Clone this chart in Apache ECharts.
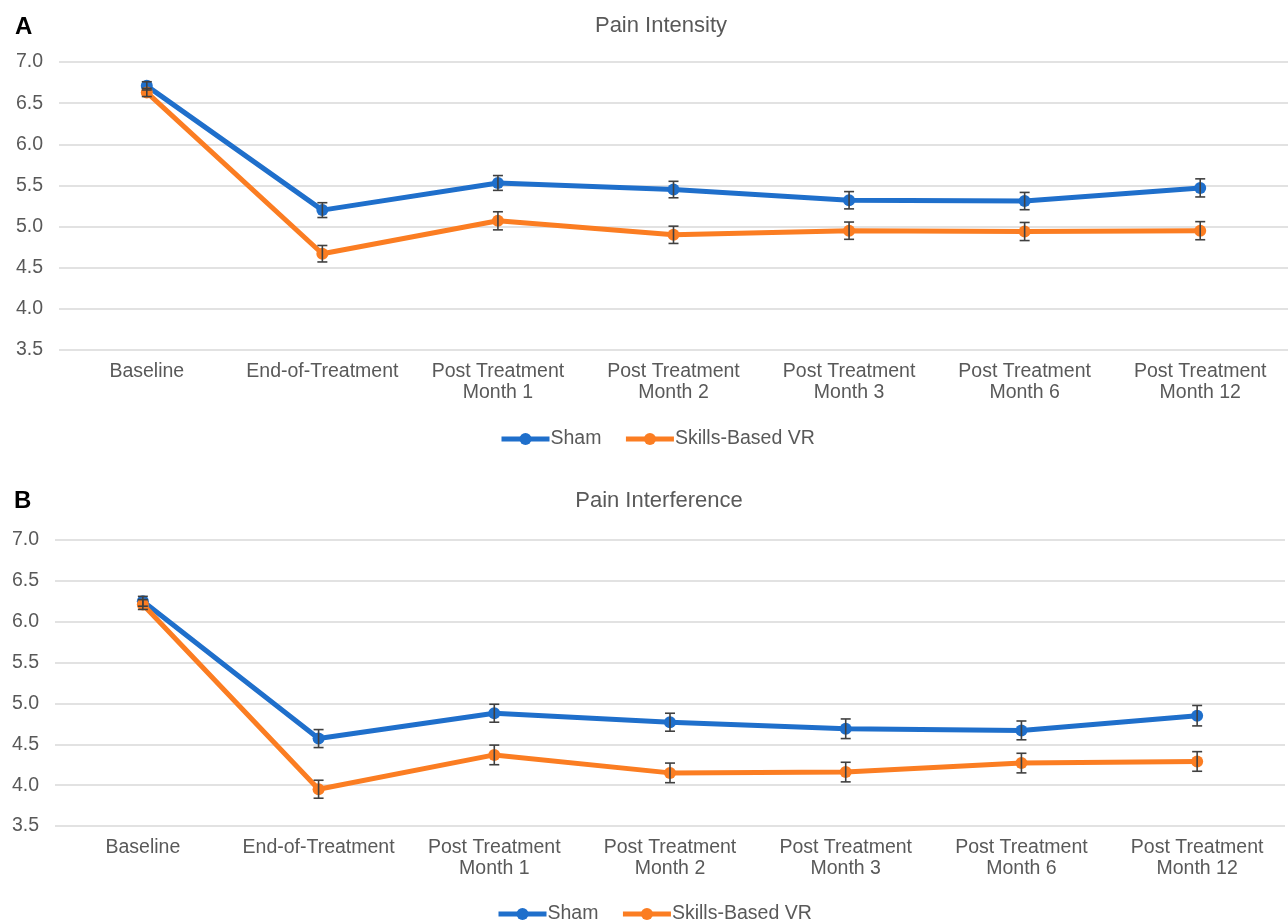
<!DOCTYPE html>
<html>
<head>
<meta charset="utf-8">
<script src="https://cdn.jsdelivr.net/npm/echarts@6/dist/echarts.min.js"></script>
<style>
  html, body { margin: 0; padding: 0; background: #ffffff; }
  #chart { width: 1288px; height: 924px; }
</style>
</head>
<body>
<div id="chart"></div>
<script>
// Time points shared by both panels
const categories = [
  'Baseline',
  'End-of-Treatment',
  'Post Treatment\nMonth 1',
  'Post Treatment\nMonth 2',
  'Post Treatment\nMonth 3',
  'Post Treatment\nMonth 6',
  'Post Treatment\nMonth 12'
];
const yTicks = [3.5, 4.0, 4.5, 5.0, 5.5, 6.0, 6.5, 7.0];

// Panel A: Pain Intensity (means and standard errors)
const intensitySham = [6.71, 5.20, 5.53, 5.45, 5.32, 5.31, 5.47];
const intensityShamErr = [0.05, 0.09, 0.09, 0.10, 0.105, 0.105, 0.11];
const intensityVR = [6.63, 4.67, 5.07, 4.90, 4.95, 4.94, 4.95];
const intensityVRErr = [0.05, 0.10, 0.11, 0.105, 0.105, 0.11, 0.11];

// Panel B: Pain Interference (means and standard errors)
const interferenceSham = [6.25, 4.57, 4.88, 4.77, 4.69, 4.67, 4.85];
const interferenceShamErr = [0.06, 0.11, 0.11, 0.11, 0.12, 0.115, 0.125];
const interferenceVR = [6.21, 3.95, 4.37, 4.15, 4.16, 4.27, 4.29];
const interferenceVRErr = [0.06, 0.11, 0.12, 0.12, 0.12, 0.12, 0.12];

const BLUE = '#1f6fcb';
const ORANGE = '#fb7d22';
const TEXT = '#595959';
const FONT = 'Liberation Sans, Arial, sans-serif';

function errData(means, errs) {
  return means.map((m, i) => [i, m - errs[i], m + errs[i]]);
}

// Vertical whisker with caps, drawn from the low/high values through the axes
function errorBarItem(params, api) {
  const x = api.value(0);
  const lo = api.coord([x, api.value(1)]);
  const hi = api.coord([x, api.value(2)]);
  const half = 5;
  const style = { stroke: '#404040', lineWidth: 1.6 };
  return {
    type: 'group',
    children: [
      { type: 'line', shape: { x1: hi[0], y1: hi[1], x2: lo[0], y2: lo[1] }, style: style },
      { type: 'line', shape: { x1: hi[0] - half, y1: hi[1], x2: hi[0] + half, y2: hi[1] }, style: style },
      { type: 'line', shape: { x1: lo[0] - half, y1: lo[1], x2: lo[0] + half, y2: lo[1] }, style: style }
    ]
  };
}

function lineSeries(name, data, color, idx) {
  return {
    name: name,
    type: 'line',
    xAxisIndex: idx,
    yAxisIndex: idx,
    data: data,
    color: color,
    symbol: 'circle',
    symbolSize: 12,
    lineStyle: { width: 5, color: color },
    itemStyle: { color: color },
    z: 3,
    animation: false
  };
}

function errSeries(name, means, errs, idx) {
  return {
    name: name,
    type: 'custom',
    xAxisIndex: idx,
    yAxisIndex: idx,
    data: errData(means, errs),
    renderItem: errorBarItem,
    encode: { x: 0, y: [1, 2] },
    z: 4,
    silent: true,
    animation: false
  };
}

function xAxis(idx) {
  return {
    type: 'category',
    gridIndex: idx,
    data: categories,
    boundaryGap: true,
    axisLine: { show: false },
    axisTick: { show: false },
    axisLabel: {
      color: TEXT,
      fontFamily: FONT,
      fontSize: 19.5,
      lineHeight: 21,
      margin: 11,
      interval: 0
    }
  };
}

function yAxis(idx) {
  return {
    type: 'value',
    gridIndex: idx,
    min: yTicks[0],
    max: yTicks[yTicks.length - 1],
    interval: 0.5,
    axisLine: { show: false },
    axisTick: { show: false },
    axisLabel: {
      color: TEXT,
      fontFamily: FONT,
      fontSize: 19.5,
      margin: 16,
      formatter: v => v.toFixed(1)
    },
    splitLine: { lineStyle: { color: '#d9d9d9', width: 1.5 } }
  };
}

const legendCommon = {
  data: ['Sham', 'Skills-Based VR'],
  padding: 0,
  itemWidth: 48,
  itemHeight: 15,
  itemGap: 22,
  itemStyle: { borderWidth: 0 },
  lineStyle: { width: 5 },
  textStyle: { color: TEXT, fontFamily: FONT, fontSize: 19.5, padding: [0, 0, 0, -4] },
  selectedMode: false
};

const chart = echarts.init(document.getElementById('chart'), null, { renderer: 'canvas' });
chart.setOption({
  backgroundColor: '#ffffff',
  animation: false,
  title: [
    { text: 'Pain Intensity', left: 656, top: 10, textAlign: 'center',
      textStyle: { color: TEXT, fontFamily: FONT, fontSize: 22, fontWeight: 'normal' } },
    { text: 'Pain Interference', left: 654, top: 485, textAlign: 'center',
      textStyle: { color: TEXT, fontFamily: FONT, fontSize: 22, fontWeight: 'normal' } },
    { text: 'A', left: 10, top: 10,
      textStyle: { color: '#000000', fontFamily: FONT, fontSize: 24, fontWeight: 'bold' } },
    { text: 'B', left: 9, top: 484,
      textStyle: { color: '#000000', fontFamily: FONT, fontSize: 24, fontWeight: 'bold' } }
  ],
  legend: [
    Object.assign({ left: 499, top: 429 }, legendCommon),
    Object.assign({ left: 496, top: 904 }, legendCommon)
  ],
  grid: [
    { left: 59, width: 1229, top: 62, height: 288 },
    { left: 55, width: 1230, top: 540, height: 286 }
  ],
  xAxis: [xAxis(0), xAxis(1)],
  yAxis: [yAxis(0), yAxis(1)],
  series: [
    lineSeries('Sham', intensitySham, BLUE, 0),
    lineSeries('Skills-Based VR', intensityVR, ORANGE, 0),
    errSeries('Sham', intensitySham, intensityShamErr, 0),
    errSeries('Skills-Based VR', intensityVR, intensityVRErr, 0),
    lineSeries('Sham', interferenceSham, BLUE, 1),
    lineSeries('Skills-Based VR', interferenceVR, ORANGE, 1),
    errSeries('Sham', interferenceSham, interferenceShamErr, 1),
    errSeries('Skills-Based VR', interferenceVR, interferenceVRErr, 1)
  ]
});
</script>
</body>
</html>
